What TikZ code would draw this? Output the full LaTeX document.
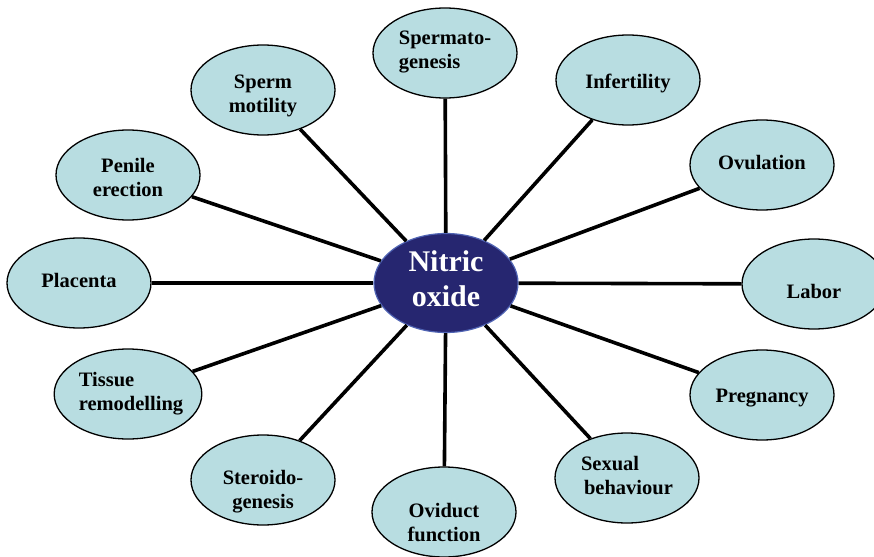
\documentclass[tikz,border=0pt]{standalone}
\usepackage{fontspec}
\setmainfont{Liberation Serif}
\usetikzlibrary{shapes.geometric}
\definecolor{outerfill}{RGB}{184,221,225}
\definecolor{nofill}{RGB}{38,38,112}
\definecolor{noborder}{RGB}{80,100,180}
\newcommand{\tx}[3]{\raisebox{#2}[\height][\depth]{\begin{tabular}{@{}#1@{}}#3\end{tabular}}}
\tikzset{
  topic/.style={ellipse, draw=black, line width=1.3pt, fill=outerfill,
    minimum width=144pt, minimum height=90pt, inner sep=0pt,
    font=\bfseries\fontsize{20.5}{24}\selectfont},
  hub/.style={ellipse, draw=noborder, line width=1.2pt, fill=nofill,
    minimum width=144pt, minimum height=90pt, inner sep=0pt, text=white,
    font=\bfseries\fontsize{30}{35}\selectfont},
  spoke/.style={line width=3.6pt, black}
}
\begin{document}
\begin{tikzpicture}[x=1pt,y=-1pt]
\useasboundingbox (0,0) rectangle (874,556);
\node[hub] (no) at (446,283) {\tx{c}{1pt}{Nitric\\oxide}};
\node[topic] (sg) at (445,53) {\tx{l}{1.5pt}{Spermato-\\genesis}};
\node[topic] (inf) at (628,80) {\tx{c}{-4pt}{Infertility}};
\node[topic] (ov) at (762,165) {\tx{c}{0pt}{Ovulation}};
\node[topic] (lab) at (814,284) {\tx{c}{-10pt}{Labor}};
\node[topic] (pr) at (762,395) {\tx{c}{-3pt}{Pregnancy}};
\node[topic] (sb) at (627,478) {\tx{l}{0pt}{Sexual\\\hspace*{3pt}behaviour}};
\node[topic] (odf) at (444,512) {\tx{c}{-13pt}{Oviduct\\function}};
\node[topic] (st) at (263,480) {\tx{c}{-12pt}{Steroido-\\genesis}};
\node[topic] (tr) at (128,394) {\hspace*{3pt}\tx{l}{0pt}{Tissue\\remodelling}\hspace*{-3pt}};
\node[topic] (pl) at (79,283) {\tx{c}{0pt}{Placenta}};
\node[topic] (pe) at (128,175) {\tx{c}{-5pt}{Penile\\erection}};
\node[topic] (sm) at (263,90) {\tx{c}{-6pt}{Sperm\\motility}};
\foreach \t in {sg,inf,ov,lab,pr,sb,odf,st,tr,pl,pe,sm}
  \draw[spoke] (no) -- (\t);
\end{tikzpicture}
\end{document}
